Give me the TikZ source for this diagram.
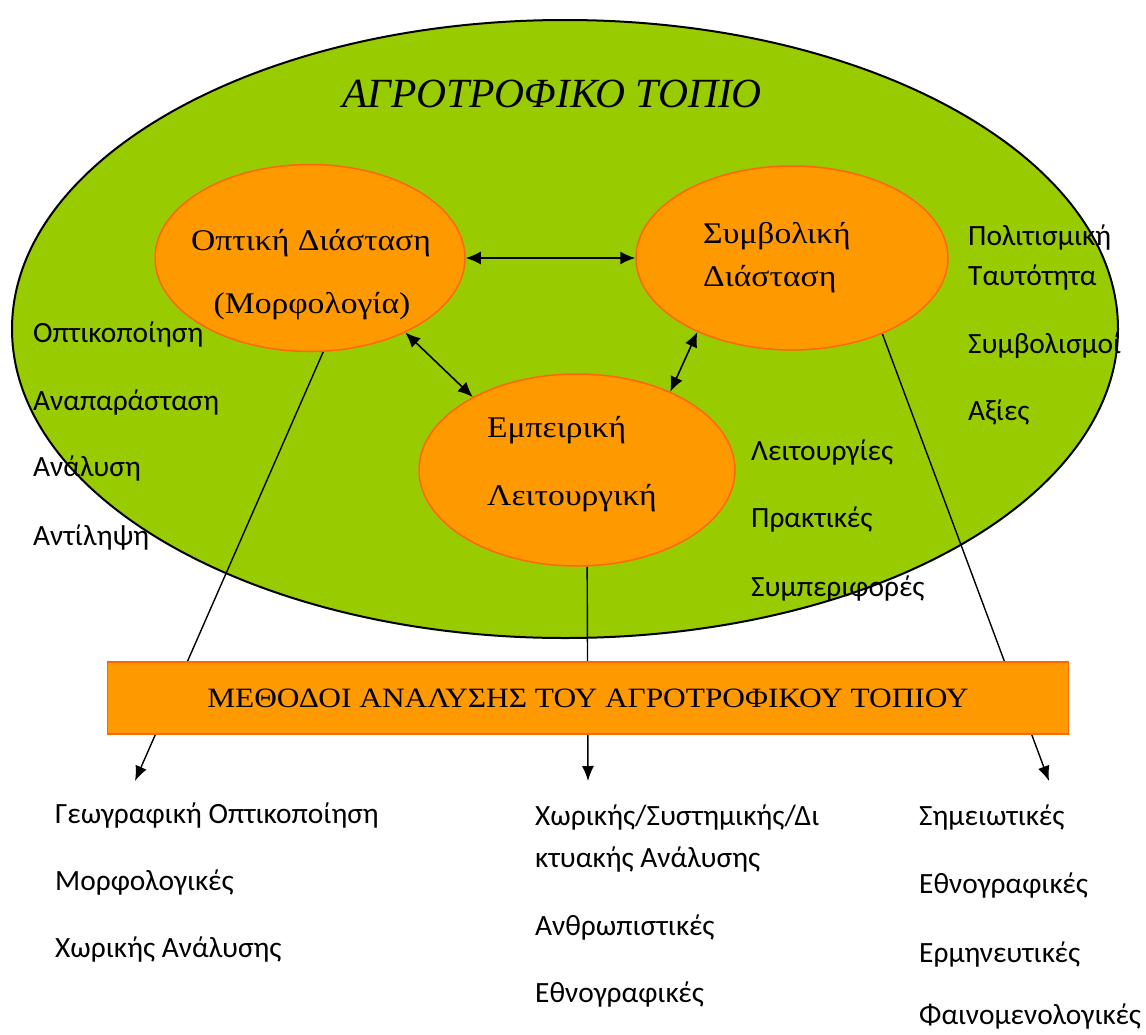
\documentclass[tikz,border=0pt]{standalone}
\usepackage{fontspec}
\setmainfont{Liberation Serif}
\newfontfamily\lblfont{Carlito}
\newfontfamily\widefont[FakeStretch=1.12]{Liberation Serif}
\usetikzlibrary{shapes.geometric,arrows.meta}
\definecolor{landgreen}{HTML}{99CC00}
\definecolor{dimorange}{HTML}{FF9900}
\definecolor{edgeorange}{HTML}{FF6600}
\pgfdeclarelayer{back}
\pgfdeclarelayer{lines}
\pgfsetlayers{back,lines,main}

\begin{document}
\begin{tikzpicture}[x=1pt,y=-1pt,
  dim/.style={ellipse,fill=dimorange,draw=edgeorange,line width=1.5pt,inner sep=0pt},
  serif/.style={font=\widefont\fontsize{30}{36}\selectfont,inner sep=0pt},
  lbl/.style={font=\lblfont\fontsize{29.4}{36}\selectfont,anchor=base west,inner sep=0pt},
  dbl/.style={{Latex[length=15pt,width=13pt]}-{Latex[length=15pt,width=13pt]},line width=1.6pt},
  down/.style={-{Latex[length=15pt,width=12pt]},line width=1.4pt}]
\useasboundingbox (0,0) rectangle (1146,1034);

\begin{pgfonlayer}{back}
\node[ellipse,fill=landgreen,draw=black,line width=2pt,minimum width=1106pt,minimum height=618pt] (landscape) at (565,329) {};
\end{pgfonlayer}
\node[font=\itshape\fontsize{41.5}{48}\selectfont,anchor=base,inner sep=0pt] (title) at (552,107) {ΑΓΡΟΤΡΟΦΙΚΟ ΤΟΠΙΟ};

% the three dimensions
\node[dim,minimum width=310pt,minimum height=187pt] (optiki) at (310,258) {};
\node[dim,minimum width=312pt,minimum height=184pt] (symvoliki) at (792,258) {};
\node[dim,minimum width=316pt,minimum height=192pt] (empeiriki) at (577,470) {};

\node[serif,anchor=base] (opt1) at (311,250) {Οπτική Διάσταση};
\node[serif,anchor=base] (opt2) at (312,313) {(Μορφολογία)};
\node[serif,anchor=base west] (sym1) at (703,243) {Συμβολική};
\node[serif,anchor=base west] (sym2) at (703,286) {Διάσταση};
\node[serif,anchor=base west] (emp1) at (487,437) {Εμπειρική};
\node[serif,anchor=base west] (emp2) at (487,505) {Λειτουργική};

\draw[dbl] (optiki.east) -- (symvoliki.west);
\draw[dbl] (optiki.-38) -- (empeiriki.145);
\draw[dbl] (symvoliki.-142) -- (empeiriki.40);

% methods box
\node[rectangle,fill=dimorange,draw=edgeorange,line width=1.5pt,minimum width=961pt,minimum height=72pt,
  font=\widefont\fontsize{28}{34}\selectfont] (methodoi) at (588,698) {ΜΕΘΟΔΟΙ ΑΝΑΛΥΣΗΣ ΤΟΥ ΑΓΡΟΤΡΟΦΙΚΟΥ ΤΟΠΙΟΥ};

\coordinate (endleft) at (135,781);
\coordinate (endmid) at (588,781);
\coordinate (endright) at (1049,781);
\begin{pgfonlayer}{lines}
\draw[down] (optiki.-82) -- (endleft);
\draw[down] (empeiriki.-84) -- (endmid);
\draw[down] (symvoliki.-40) -- (endright);
\end{pgfonlayer}

% labels inside the landscape
\node[lbl] (l1) at (33,342) {Οπτικοποίηση};
\node[lbl] (l2) at (33,410) {Αναπαράσταση};
\node[lbl] (l3) at (33,476) {Ανάλυση};
\node[lbl] (l4) at (33,545) {Αντίληψη};
\node[lbl] (r1) at (968,245) {Πολιτισμική};
\node[lbl] (r2) at (968,285) {Ταυτότητα};
\node[lbl] (r3) at (968,353) {Συμβολισμοί};
\node[lbl] (r4) at (968,420) {Αξίες};
\node[lbl] (m1) at (751,460) {Λειτουργίες};
\node[lbl] (m2) at (751,527) {Πρακτικές};
\node[lbl] (m3) at (751,596) {Συμπεριφορές};

% methods
\node[lbl] (b1) at (55,823) {Γεωγραφική Οπτικοποίηση};
\node[lbl] (b2) at (55,890) {Μορφολογικές};
\node[lbl] (b3) at (55,957) {Χωρικής Ανάλυσης};
\node[lbl] (c1) at (535,825) {Χωρικής/Συστημικής/Δι};
\node[lbl] (c2) at (535,867) {κτυακής Ανάλυσης};
\node[lbl] (c3) at (535,935) {Ανθρωπιστικές};
\node[lbl] (c4) at (535,1002) {Εθνογραφικές};
\node[lbl] (d1) at (919,825) {Σημειωτικές};
\node[lbl] (d2) at (919,893) {Εθνογραφικές};
\node[lbl] (d3) at (919,962) {Ερμηνευτικές};
\node[lbl] (d4) at (919,1024) {Φαινομενολογικές};
\end{tikzpicture}
\end{document}
